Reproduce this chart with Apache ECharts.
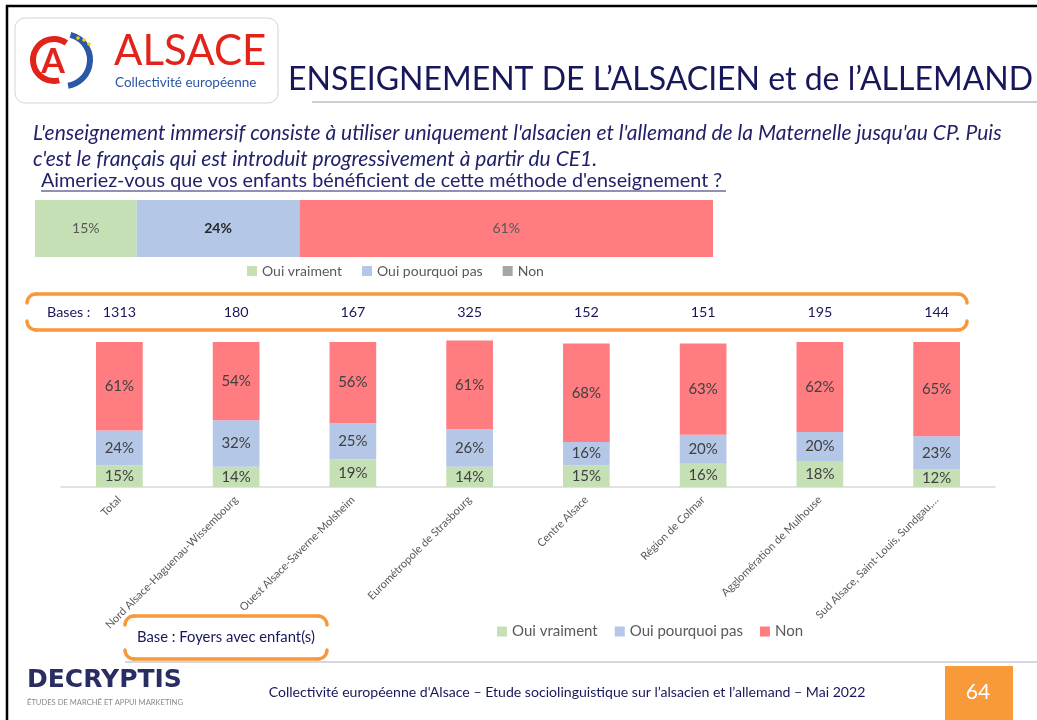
<!DOCTYPE html>
<html>
<head>
<meta charset="utf-8">
<script src="https://cdn.jsdelivr.net/npm/echarts@6/dist/echarts.min.js"></script>
<style>
  html, body { margin: 0; padding: 0; background: #ffffff; }
  #chart { width: 1037px; height: 720px; }
</style>
</head>
<body>
<div id="chart"></div>
<script>
// Survey answers: "Aimeriez-vous que vos enfants bénéficient de cette méthode d'enseignement ?"
var seriesNames = ['Oui vraiment', 'Oui pourquoi pas', 'Non'];
var seriesColors = ['#c5e0b4', '#b4c7e7', '#ff7c80'];

// Overall result (single horizontal bar)
var overallValues = [15, 24, 61];

// Results per territory
var regions = [
  'Total',
  'Nord Alsace-Haguenau-Wissembourg',
  'Ouest Alsace-Saverne-Molsheim',
  'Eurométropole de Strasbourg',
  'Centre Alsace',
  'Région de Colmar',
  'Agglomération de Mulhouse',
  'Sud Alsace, Saint-Louis, Sundgau,…'
];
var bases = ['1313', '180', '167', '325', '152', '151', '195', '144'];
var ouiVraiment    = [15, 14, 19, 14, 15, 16, 18, 12];
var ouiPourquoiPas = [24, 32, 25, 26, 16, 20, 20, 23];
var non            = [61, 54, 56, 61, 68, 63, 62, 65];

var FONT = 'Lato';
var NAVY = '#17175c';
var ORANGE = '#f7983a';

var chart = echarts.init(document.getElementById('chart'), null, { renderer: 'canvas' });

// Rounded orange "bracket" frame: top and bottom strokes with curled corners
function bracket(x1, y1, x2, y2, r) {
  var st = { stroke: ORANGE, lineWidth: 3.5, fill: null, lineCap: 'round' };
  var P = Math.PI;
  return [
    { type: 'line', shape: { x1: x1 + r, y1: y1, x2: x2 - r, y2: y1 }, style: st, z: 10 },
    { type: 'line', shape: { x1: x1 + r, y1: y2, x2: x2 - r, y2: y2 }, style: st, z: 10 },
    { type: 'arc', shape: { cx: x1 + r, cy: y1 + r, r: r, startAngle: P, endAngle: 1.5 * P, clockwise: true }, style: st, z: 10 },
    { type: 'arc', shape: { cx: x2 - r, cy: y1 + r, r: r, startAngle: 1.5 * P, endAngle: 2 * P, clockwise: true }, style: st, z: 10 },
    { type: 'arc', shape: { cx: x1 + r, cy: y2 - r, r: r, startAngle: 0.5 * P, endAngle: P, clockwise: true }, style: st, z: 10 },
    { type: 'arc', shape: { cx: x2 - r, cy: y2 - r, r: r, startAngle: 0, endAngle: 0.5 * P, clockwise: true }, style: st, z: 10 }
  ];
}

var graphics = [
  // slide frame
  { type: 'polyline', shape: { points: [[7, 720], [7, 6], [1037, 6]] },
    style: { stroke: '#000', lineWidth: 2.5, fill: null }, z: 20 },
  // logo card
  { type: 'rect', shape: { x: 15, y: 18, width: 263, height: 85, r: 10 },
    style: { fill: '#ffffff', stroke: '#d4d4d4', lineWidth: 1 } },
  { type: 'arc', shape: { cx: 54, cy: 60, r: 21, startAngle: Math.PI * 0.42, endAngle: Math.PI * 1.7, clockwise: true },
    style: { stroke: '#e2231a', lineWidth: 6, fill: null } },
  { type: 'text', style: { text: 'A', x: 53, y: 62, fill: '#e2231a', font: 'bold 34px ' + FONT, align: 'center', verticalAlign: 'middle' } },
  { type: 'arc', shape: { cx: 64, cy: 60, r: 26, startAngle: -Math.PI * 0.42, endAngle: Math.PI * 0.45, clockwise: true },
    style: { stroke: '#2b57a6', lineWidth: 6, fill: null } },
  { type: 'circle', shape: { cx: 78, cy: 38, r: 1.8 }, style: { fill: '#f5d10a' } },
  { type: 'circle', shape: { cx: 84, cy: 40, r: 1.8 }, style: { fill: '#f5d10a' } },
  { type: 'circle', shape: { cx: 89, cy: 44, r: 1.8 }, style: { fill: '#f5d10a' } },
  { type: 'text', style: { text: 'ALSACE', x: 114, y: 30, fill: '#e2231a', font: '42px ' + FONT, verticalAlign: 'top' } },
  { type: 'text', style: { text: 'Collectivité européenne', x: 115, y: 83, fill: '#2b57a6', font: '13.5px ' + FONT, verticalAlign: 'middle' } },
  // title
  { type: 'text', style: { text: 'ENSEIGNEMENT DE L\u2019ALSACIEN et de l\u2019ALLEMAND', x: 288, y: 96, fill: NAVY, font: '32px ' + FONT, verticalAlign: 'bottom' } },
  { type: 'line', shape: { x1: 312, y1: 102, x2: 1037, y2: 102 }, style: { stroke: '#9a9a9a', lineWidth: 1 } },
  // introduction
  { type: 'text', style: { text: 'L\'enseignement immersif consiste à utiliser uniquement l\'alsacien et l\'allemand de la Maternelle jusqu\'au CP. Puis',
    x: 33, y: 133, fill: '#22226a', font: 'italic 21px ' + FONT, verticalAlign: 'middle' } },
  { type: 'text', style: { text: 'c\'est le français qui est introduit progressivement à partir du CE1.',
    x: 33, y: 159, fill: '#22226a', font: 'italic 21px ' + FONT, verticalAlign: 'middle' } },
  { type: 'text', style: { text: 'Aimeriez-vous que vos enfants bénéficient de cette méthode d\'enseignement ?',
    x: 41, y: 181, fill: '#22226a', font: '19.8px ' + FONT, verticalAlign: 'middle' } },
  { type: 'line', shape: { x1: 41, y1: 191, x2: 726, y2: 191 }, style: { stroke: '#22226a', lineWidth: 1.2 } },
  // bases row
  { type: 'text', style: { text: 'Bases :', x: 47, y: 312, fill: NAVY, font: '14.3px ' + FONT, verticalAlign: 'middle' } },
  // footnote on population
  { type: 'text', style: { text: 'Base : Foyers avec enfant(s)', x: 137, y: 637, fill: NAVY, font: '14.8px ' + FONT, verticalAlign: 'middle' } },
  // footer
  { type: 'line', shape: { x1: 125, y1: 662, x2: 1037, y2: 662 }, style: { stroke: '#c9c9d6', lineWidth: 1.5 } },
  { type: 'text', style: { text: 'DECRYPTIS', x: 27, y: 680, fill: '#2a2d62', font: 'bold 25px "DejaVu Sans"', verticalAlign: 'middle' } },
  { type: 'text', style: { text: 'ÉTUDES DE MARCHÉ ET APPUI MARKETING', x: 27, y: 703, fill: '#8a8a8a', font: '7.6px ' + FONT, verticalAlign: 'middle' } },
  { type: 'text', style: { text: 'Collectivité européenne d\'Alsace \u2013 Etude sociolinguistique sur l\u2019alsacien et l\u2019allemand \u2013 Mai 2022',
    x: 567, y: 692, fill: NAVY, font: '14.1px ' + FONT, align: 'center', verticalAlign: 'middle' } },
  { type: 'rect', shape: { x: 945, y: 666, width: 68, height: 54 }, style: { fill: '#f89a3a' } },
  { type: 'text', style: { text: '64', x: 978, y: 692, fill: '#ffffff', font: '21px ' + FONT, align: 'center', verticalAlign: 'middle' }, z: 5 }
].concat(bracket(27, 294, 967, 330, 9)).concat(bracket(125, 616, 327, 659, 9));

var barLabel = {
  show: true, position: 'inside', formatter: '{c}%',
  color: '#404040', fontSize: 15, fontFamily: FONT
};

var series = [];
// overall horizontal bar
overallValues.forEach(function (v, i) {
  series.push({
    name: seriesNames[i], type: 'bar', stack: 'overall',
    xAxisIndex: 0, yAxisIndex: 0, barWidth: '100%',
    itemStyle: { color: seriesColors[i] },
    label: {
      show: true, position: 'inside', formatter: '{c}%',
      color: i === 1 ? '#262626' : '#595959', fontWeight: i === 1 ? 'bold' : 'normal',
      fontSize: 14, fontFamily: FONT
    },
    data: [v]
  });
});
// per-territory stacked columns
[ouiVraiment, ouiPourquoiPas, non].forEach(function (arr, i) {
  series.push({
    name: seriesNames[i], type: 'bar', stack: 'regions',
    xAxisIndex: 1, yAxisIndex: 1, barCategoryGap: '60%', clip: false,
    itemStyle: { color: seriesColors[i] },
    label: barLabel,
    data: arr
  });
});

var option = {
  backgroundColor: '#ffffff',
  animation: false,
  graphic: graphics,
  grid: [
    { left: 35, top: 200, width: 678, height: 57 },
    { left: 61, top: 342, width: 934, height: 145 }
  ],
  xAxis: [
    { gridIndex: 0, type: 'value', min: 0, max: 100, show: false },
    { gridIndex: 1, type: 'category', data: regions,
      axisLine: { lineStyle: { color: '#d9d9d9', width: 1.5 } },
      axisTick: { show: false },
      axisLabel: { interval: 0, rotate: 45, color: '#595959', fontSize: 11, fontFamily: FONT, margin: 11 } },
    { gridIndex: 1, type: 'category', data: bases, position: 'top', offset: 15,
      axisLine: { show: false }, axisTick: { show: false },
      axisLabel: { interval: 0, color: NAVY, fontSize: 14.3, fontFamily: FONT, margin: 8 } }
  ],
  yAxis: [
    { gridIndex: 0, type: 'category', data: [''], show: false },
    { gridIndex: 1, type: 'value', min: 0, max: 100, show: false }
  ],
  legend: [
    { left: 242, top: 259, itemWidth: 10, itemHeight: 10, itemGap: 20, icon: 'rect', selectedMode: false,
      textStyle: { color: '#595959', fontSize: 14, fontFamily: FONT },
      data: [{ name: 'Oui vraiment' }, { name: 'Oui pourquoi pas' },
             { name: 'Non', itemStyle: { color: '#a6a6a6' } }] },
    { left: 492, top: 619, itemWidth: 10, itemHeight: 10, itemGap: 17, icon: 'rect', selectedMode: false,
      textStyle: { color: '#595959', fontSize: 15, fontFamily: FONT },
      data: seriesNames }
  ],
  series: series
};

chart.setOption(option);
</script>
</body>
</html>
